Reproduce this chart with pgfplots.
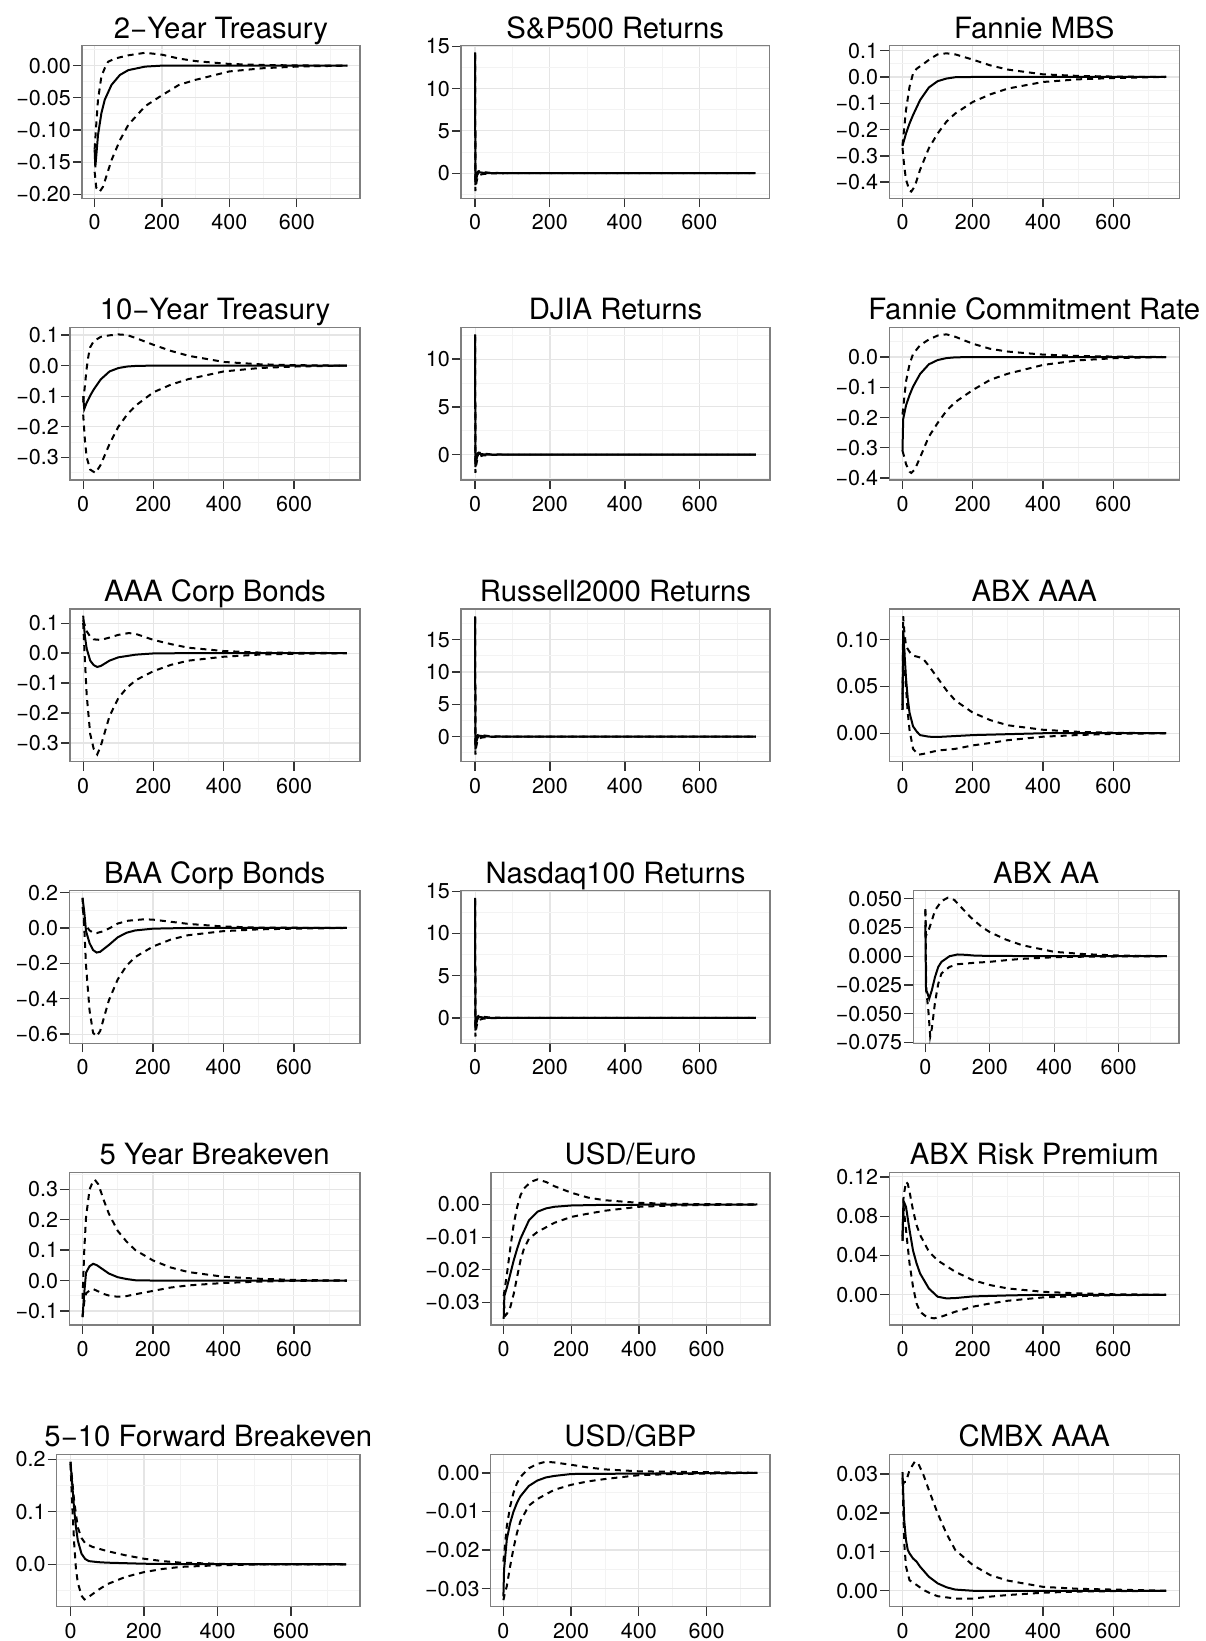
\documentclass[border=0pt]{standalone}
\usepackage{fontspec}
\setmainfont{TeX Gyre Heros}
\usepackage{pgfplots}
\pgfplotsset{compat=1.18}
\definecolor{grid90}{RGB}{229,229,229}
\definecolor{grid98}{RGB}{243,243,243}
\definecolor{border}{RGB}{127,127,127}
\definecolor{tickc}{RGB}{51,51,51}
\pgfplotsset{
 irf/.style={
  scale only axis,
  anchor=south west,
  height=152.5pt,
  xmin=-37.5, xmax=787.5,
  xtick={0,200,400,600},
  xticklabels={0,200,400,600},
  minor xtick={100,300,500,700},
  scaled ticks=false,
  tick align=outside,
  tick pos=left,
  major tick length=9pt,
  minor tick length=0pt,
  grid=both,
  major grid style={line width=1.1pt, color=grid90},
  minor grid style={line width=0.9pt, color=grid98},
  axis line style={line width=1.3pt, color=border},
  major tick style={line width=1.3pt, color=tickc},
  minor tick style={draw=none},
  tick label style={font=\fontsize{21.5}{21.5}\selectfont, text=black},
  yticklabel style={inner sep=0pt, xshift=-2pt},
  xticklabel style={inner sep=0pt, yshift=-7pt},
  title style={font=\fontsize{29.3}{29.3}\selectfont, anchor=base, at={(0.5,1)}, yshift=1.5pt, inner sep=0pt},
 },
 sl/.style={black, line width=2pt, no markers},
 dl/.style={black, line width=2pt, no markers, dash pattern=on 6pt off 5pt},
}
\begin{document}
\begin{tikzpicture}
\path[use as bounding box] (0,0) rectangle (1205pt,1641pt);

% ---------- Row 1 ----------
\begin{axis}[irf, at={(82pt,1442.8pt)}, width=278pt,
 title={2\textminus Year Treasury},
 ymin=-0.206, ymax=0.031,
 ytick={-0.2,-0.15,-0.1,-0.05,0},
 yticklabels={\textminus0.20,\textminus0.15,\textminus0.10,\textminus0.05,0.00},
 minor ytick={-0.175,-0.125,-0.075,-0.025,0.025}]
\addplot[sl] coordinates {(0,-0.13)(2,-0.158)(10,-0.108)(20,-0.074)(30,-0.053)(50,-0.030)(75,-0.0145)(100,-0.007)(150,-0.0015)(200,0)(750,0)};
\addplot[dl] coordinates {(0,-0.13)(5,-0.09)(10,-0.053)(20,-0.017)(30,-0.004)(40,0.006)(60,0.011)(100,0.016)(150,0.020)(200,0.017)(250,0.011)(300,0.007)(400,0.0026)(500,0.001)(600,0.0003)(750,0)};
\addplot[dl] coordinates {(0,-0.165)(5,-0.19)(15,-0.196)(25,-0.188)(50,-0.147)(75,-0.116)(100,-0.092)(150,-0.063)(200,-0.046)(250,-0.030)(300,-0.022)(400,-0.009)(500,-0.004)(600,-0.0015)(750,0)};
\end{axis}

\begin{axis}[irf, at={(461pt,1442.8pt)}, width=308.5pt,
 title={S\&P500 Returns},
 ymin=-2.95, ymax=15.08,
 ytick={0,5,10,15}, yticklabels={0,5,10,15},
 minor ytick={-2.5,2.5,7.5,12.5}]
\addplot[sl] coordinates {(0,14.3)(1,-1.4)(3,-0.7)(6,-0.2)(10,0.12)(15,0.1)(25,0.03)(50,0)(750,0)};
\addplot[dl] coordinates {(0,14.2)(1,-0.8)(3,-0.1)(6,0.15)(10,0.25)(20,0.15)(40,0.05)(80,0.01)(150,0)(750,0)};
\addplot[dl] coordinates {(0,14.0)(1,-2.1)(3,-1.3)(6,-0.6)(10,-0.25)(20,-0.1)(40,-0.03)(80,0)(750,0)};
\end{axis}

\begin{axis}[irf, at={(889.3pt,1442.8pt)}, width=290pt,
 title={Fannie MBS},
 ymin=-0.461, ymax=0.119,
 ytick={-0.4,-0.3,-0.2,-0.1,0,0.1},
 yticklabels={\textminus0.4,\textminus0.3,\textminus0.2,\textminus0.1,0.0,0.1},
 minor ytick={-0.45,-0.35,-0.25,-0.15,-0.05,0.05}]
\addplot[sl] coordinates {(0,-0.262)(10,-0.215)(20,-0.177)(30,-0.145)(50,-0.088)(75,-0.040)(100,-0.016)(125,-0.006)(150,-0.001)(200,0)(750,0)};
\addplot[dl] coordinates {(0,-0.26)(10,-0.126)(20,-0.038)(30,0.013)(40,0.031)(60,0.05)(80,0.07)(100,0.086)(125,0.09)(150,0.086)(200,0.066)(250,0.044)(300,0.028)(400,0.010)(500,0.004)(600,0.0015)(750,0)};
\addplot[dl] coordinates {(0,-0.27)(5,-0.34)(10,-0.39)(20,-0.433)(25,-0.436)(35,-0.416)(50,-0.353)(75,-0.271)(100,-0.215)(125,-0.17)(150,-0.139)(200,-0.095)(250,-0.066)(300,-0.044)(400,-0.019)(500,-0.009)(600,-0.004)(750,0)};
\end{axis}

% ---------- Row 2 ----------
\begin{axis}[irf, at={(70pt,1161.1pt)}, width=290pt,
 title={10\textminus Year Treasury},
 ymin=-0.3736, ymax=0.125,
 ytick={-0.3,-0.2,-0.1,0,0.1},
 yticklabels={\textminus0.3,\textminus0.2,\textminus0.1,0.0,0.1},
 minor ytick={-0.35,-0.25,-0.15,-0.05,0.05}]
\addplot[sl] coordinates {(0,-0.10)(3,-0.142)(10,-0.121)(20,-0.098)(30,-0.078)(50,-0.045)(75,-0.019)(100,-0.008)(125,-0.003)(150,-0.001)(200,0)(750,0)};
\addplot[dl] coordinates {(0,-0.12)(5,-0.064)(10,-0.008)(15,0.032)(20,0.06)(30,0.08)(50,0.094)(75,0.099)(100,0.102)(125,0.10)(150,0.09)(200,0.068)(250,0.048)(300,0.032)(400,0.012)(500,0.0045)(600,0.0015)(750,0)};
\addplot[dl] coordinates {(0,-0.16)(5,-0.245)(10,-0.30)(20,-0.34)(35,-0.351)(50,-0.324)(75,-0.256)(100,-0.20)(125,-0.16)(150,-0.13)(200,-0.087)(250,-0.062)(300,-0.044)(400,-0.019)(500,-0.008)(600,-0.003)(750,0)};
\end{axis}

\begin{axis}[irf, at={(461pt,1161.1pt)}, width=309pt,
 title={DJIA Returns},
 ymin=-2.64, ymax=13.32,
 ytick={0,5,10}, yticklabels={0,5,10},
 minor ytick={-2.5,2.5,7.5,12.5}]
\addplot[sl] coordinates {(0,12.6)(1,-1.3)(3,-0.6)(6,-0.2)(10,0.1)(15,0.08)(25,0.02)(50,0)(750,0)};
\addplot[dl] coordinates {(0,12.5)(1,-0.7)(3,-0.1)(6,0.13)(10,0.22)(20,0.13)(40,0.04)(80,0.01)(150,0)(750,0)};
\addplot[dl] coordinates {(0,12.3)(1,-1.9)(3,-1.1)(6,-0.5)(10,-0.22)(20,-0.09)(40,-0.03)(80,0)(750,0)};
\end{axis}

\begin{axis}[irf, at={(889.3pt,1161.1pt)}, width=290pt,
 title={Fannie Commitment Rate},
 ymin=-0.406, ymax=0.098,
 ytick={-0.4,-0.3,-0.2,-0.1,0},
 yticklabels={\textminus0.4,\textminus0.3,\textminus0.2,\textminus0.1,0.0},
 minor ytick={-0.35,-0.25,-0.15,-0.05,0.05}]
\addplot[sl] coordinates {(0,-0.31)(2,-0.205)(10,-0.16)(20,-0.126)(30,-0.098)(50,-0.056)(75,-0.024)(100,-0.010)(125,-0.0035)(150,-0.001)(200,0)(750,0)};
\addplot[dl] coordinates {(0,-0.19)(10,-0.081)(20,-0.024)(30,0.010)(50,0.039)(75,0.058)(100,0.071)(125,0.075)(150,0.067)(200,0.044)(250,0.027)(300,0.018)(400,0.008)(500,0.0035)(600,0.0015)(750,0)};
\addplot[dl] coordinates {(0,-0.31)(5,-0.33)(10,-0.354)(20,-0.379)(25,-0.383)(35,-0.372)(50,-0.332)(75,-0.263)(100,-0.218)(125,-0.178)(150,-0.149)(200,-0.109)(250,-0.075)(300,-0.055)(400,-0.026)(500,-0.011)(600,-0.004)(750,0)};
\end{axis}

% ---------- Row 3 ----------
\begin{axis}[irf, at={(70pt,879.4pt)}, width=290pt,
 title={AAA Corp Bonds},
 ymin=-0.362, ymax=0.147,
 ytick={-0.3,-0.2,-0.1,0,0.1},
 yticklabels={\textminus0.3,\textminus0.2,\textminus0.1,0.0,0.1},
 minor ytick={-0.35,-0.25,-0.15,-0.05,0.05}]
\addplot[sl] coordinates {(0,0.125)(5,0.055)(10,0.015)(20,-0.025)(30,-0.040)(40,-0.046)(50,-0.043)(75,-0.025)(100,-0.014)(150,-0.005)(200,-0.001)(300,0)(750,0)};
\addplot[dl] coordinates {(0,0.11)(10,0.073)(20,0.055)(30,0.046)(50,0.044)(75,0.052)(100,0.061)(130,0.067)(150,0.064)(200,0.044)(250,0.030)(300,0.018)(400,0.007)(500,0.002)(750,0)};
\addplot[dl] coordinates {(0,0.10)(5,-0.025)(10,-0.14)(20,-0.27)(30,-0.32)(40,-0.338)(50,-0.31)(75,-0.21)(100,-0.15)(125,-0.115)(150,-0.09)(200,-0.06)(250,-0.039)(300,-0.025)(400,-0.012)(500,-0.005)(600,-0.002)(750,0)};
\end{axis}

\begin{axis}[irf, at={(461pt,879.4pt)}, width=309pt,
 title={Russell2000 Returns},
 ymin=-3.87, ymax=19.74,
 ytick={0,5,10,15}, yticklabels={0,5,10,15},
 minor ytick={-2.5,2.5,7.5,12.5,17.5}]
\addplot[sl] coordinates {(0,18.6)(1,-2.0)(3,-0.9)(6,-0.3)(10,0.15)(15,0.12)(25,0.03)(50,0)(750,0)};
\addplot[dl] coordinates {(0,18.5)(1,-1.2)(3,-0.2)(6,0.2)(10,0.3)(20,0.2)(40,0.06)(80,0.01)(150,0)(750,0)};
\addplot[dl] coordinates {(0,18.3)(1,-2.8)(3,-1.6)(6,-0.8)(10,-0.3)(20,-0.12)(40,-0.04)(80,0)(750,0)};
\end{axis}

\begin{axis}[irf, at={(889.3pt,879.4pt)}, width=290pt,
 title={ABX AAA},
 ymin=-0.0303, ymax=0.1327,
 ytick={0,0.05,0.1}, yticklabels={0.00,0.05,0.10},
 minor ytick={-0.025,0.025,0.075,0.125}]
\addplot[sl] coordinates {(0,0.025)(2,0.11)(5,0.09)(10,0.059)(15,0.037)(20,0.022)(30,0.0074)(40,0.002)(50,-0.002)(75,-0.0037)(100,-0.004)(150,-0.003)(200,-0.002)(300,-0.001)(400,0)(750,0)};
\addplot[dl] coordinates {(0,0.03)(2,0.125)(5,0.11)(10,0.093)(20,0.087)(30,0.083)(50,0.081)(60,0.079)(75,0.072)(100,0.059)(125,0.046)(150,0.035)(200,0.022)(250,0.014)(300,0.0085)(400,0.0037)(500,0.0015)(600,0.0005)(750,0)};
\addplot[dl] coordinates {(0,0.025)(3,0.105)(8,0.06)(15,0.022)(20,0.0037)(30,-0.0167)(45,-0.023)(60,-0.022)(100,-0.0185)(150,-0.0167)(200,-0.013)(250,-0.0104)(300,-0.0074)(400,-0.0037)(500,-0.0019)(600,-0.0007)(750,0)};
\end{axis}

% ---------- Row 4 ----------
\begin{axis}[irf, at={(69.3pt,597.7pt)}, width=290.7pt,
 title={BAA Corp Bonds},
 ymin=-0.652, ymax=0.21,
 ytick={-0.6,-0.4,-0.2,0,0.2},
 yticklabels={\textminus0.6,\textminus0.4,\textminus0.2,0.0,0.2},
 minor ytick={-0.5,-0.3,-0.1,0.1}]
\addplot[sl] coordinates {(0,0.17)(5,0.09)(10,-0.018)(20,-0.086)(30,-0.125)(40,-0.139)(50,-0.135)(75,-0.096)(100,-0.053)(125,-0.027)(150,-0.014)(200,-0.004)(300,0)(750,0)};
\addplot[dl] coordinates {(0,0.12)(5,0.04)(10,0.012)(20,-0.014)(30,-0.027)(40,-0.029)(60,-0.018)(80,0.002)(100,0.025)(130,0.041)(175,0.049)(200,0.047)(250,0.035)(300,0.023)(400,0.008)(500,0.002)(750,0)};
\addplot[dl] coordinates {(0,0.17)(5,0.0)(10,-0.213)(20,-0.466)(30,-0.593)(40,-0.613)(50,-0.583)(75,-0.408)(100,-0.291)(125,-0.213)(150,-0.164)(200,-0.105)(250,-0.066)(300,-0.041)(400,-0.018)(500,-0.008)(600,-0.004)(750,0)};
\end{axis}

\begin{axis}[irf, at={(461pt,597.7pt)}, width=309pt,
 title={Nasdaq100 Returns},
 ymin=-3.0, ymax=15.05,
 ytick={0,5,10,15}, yticklabels={0,5,10,15},
 minor ytick={-2.5,2.5,7.5,12.5}]
\addplot[sl] coordinates {(0,14.2)(1,-1.5)(3,-0.7)(6,-0.2)(10,0.12)(15,0.1)(25,0.03)(50,0)(750,0)};
\addplot[dl] coordinates {(0,14.1)(1,-0.9)(3,-0.1)(6,0.15)(10,0.25)(20,0.15)(40,0.05)(80,0.01)(150,0)(750,0)};
\addplot[dl] coordinates {(0,13.9)(1,-2.2)(3,-1.3)(6,-0.6)(10,-0.25)(20,-0.1)(40,-0.03)(80,0)(750,0)};
\end{axis}

\begin{axis}[irf, at={(913.3pt,597.7pt)}, width=265.7pt,
 title={ABX AA},
 ymin=-0.0759, ymax=0.057,
 ytick={-0.075,-0.05,-0.025,0,0.025,0.05},
 yticklabels={\textminus0.075,\textminus0.050,\textminus0.025,0.000,0.025,0.050},
 minor ytick={-0.0625,-0.0375,-0.0125,0.0125,0.0375}]
\addplot[sl] coordinates {(0,0.027)(2,-0.03)(5,-0.031)(12,-0.037)(20,-0.0296)(30,-0.018)(40,-0.0093)(50,-0.0049)(75,0.0)(100,0.0015)(125,0.0012)(150,0.0006)(200,0.0002)(750,0)};
\addplot[dl] coordinates {(0,0.041)(2,0.018)(10,0.0226)(20,0.031)(30,0.040)(50,0.048)(70,0.051)(90,0.049)(110,0.043)(140,0.034)(175,0.0255)(200,0.021)(250,0.0145)(300,0.0096)(400,0.0038)(500,0.0017)(600,0.0006)(750,0)};
\addplot[dl] coordinates {(0,0.04)(3,-0.03)(10,-0.05)(15,-0.07)(20,-0.063)(30,-0.040)(40,-0.024)(50,-0.015)(75,-0.0093)(100,-0.007)(150,-0.0058)(200,-0.0049)(250,-0.0035)(300,-0.0023)(400,-0.0009)(500,-0.0004)(750,0)};
\end{axis}

% ---------- Row 5 ----------
\begin{axis}[irf, at={(69.3pt,316pt)}, width=290.7pt,
 title={5 Year Breakeven},
 ymin=-0.146, ymax=0.355,
 ytick={-0.1,0,0.1,0.2,0.3},
 yticklabels={\textminus0.1,0.0,0.1,0.2,0.3},
 minor ytick={-0.05,0.05,0.15,0.25,0.35}]
\addplot[sl] coordinates {(0,-0.12)(5,-0.04)(10,0.026)(20,0.047)(30,0.055)(40,0.051)(50,0.043)(75,0.023)(100,0.011)(125,0.005)(150,0.001)(200,0)(750,0)};
\addplot[dl] coordinates {(0,-0.06)(5,0.1)(10,0.208)(20,0.299)(30,0.327)(35,0.331)(45,0.316)(60,0.265)(75,0.219)(100,0.163)(125,0.128)(150,0.1)(200,0.066)(250,0.043)(300,0.028)(400,0.0125)(500,0.006)(600,0.002)(750,0)};
\addplot[dl] coordinates {(0,-0.12)(5,-0.07)(10,-0.042)(20,-0.033)(30,-0.028)(40,-0.033)(60,-0.044)(80,-0.051)(100,-0.053)(125,-0.051)(150,-0.045)(200,-0.034)(250,-0.023)(300,-0.016)(400,-0.008)(500,-0.0035)(600,-0.001)(750,0)};
\end{axis}

\begin{axis}[irf, at={(491pt,316pt)}, width=279pt,
 title={USD/Euro},
 ymin=-0.0369, ymax=0.0098,
 ytick={-0.03,-0.02,-0.01,0},
 yticklabels={\textminus0.03,\textminus0.02,\textminus0.01,0.00},
 minor ytick={-0.035,-0.025,-0.015,-0.005,0.005}]
\addplot[sl] coordinates {(0,-0.035)(2,-0.028)(10,-0.0252)(20,-0.0211)(30,-0.017)(40,-0.0135)(50,-0.0104)(75,-0.0048)(100,-0.0022)(125,-0.0012)(150,-0.0007)(200,-0.0003)(300,-0.0001)(750,0)};
\addplot[dl] coordinates {(0,-0.028)(10,-0.021)(20,-0.013)(30,-0.0058)(40,-0.0007)(50,0.0029)(60,0.0049)(80,0.0069)(100,0.0077)(125,0.0069)(150,0.0056)(200,0.0036)(250,0.0021)(300,0.0013)(400,0.0005)(500,0.0002)(750,0)};
\addplot[dl] coordinates {(0,-0.030)(5,-0.034)(10,-0.0334)(20,-0.0313)(30,-0.0272)(40,-0.022)(50,-0.017)(60,-0.0135)(75,-0.0104)(100,-0.0084)(150,-0.0056)(200,-0.0038)(250,-0.0028)(300,-0.0019)(400,-0.0007)(500,-0.0003)(750,0)};
\end{axis}

\begin{axis}[irf, at={(889.3pt,316pt)}, width=290pt,
 title={ABX Risk Premium},
 ymin=-0.0308, ymax=0.1245,
 ytick={0,0.04,0.08,0.12}, yticklabels={0.00,0.04,0.08,0.12},
 minor ytick={-0.02,0.02,0.06,0.10}]
\addplot[sl] coordinates {(0,0.055)(3,0.095)(5,0.094)(10,0.0895)(20,0.066)(30,0.045)(40,0.032)(50,0.0217)(75,0.0064)(100,-0.002)(125,-0.0037)(150,-0.0034)(200,-0.0017)(300,-0.0007)(400,0)(750,0)};
\addplot[dl] coordinates {(0,0.06)(3,0.1)(10,0.115)(15,0.113)(20,0.105)(30,0.086)(40,0.071)(50,0.061)(75,0.044)(100,0.035)(150,0.0234)(200,0.0149)(250,0.0098)(300,0.0064)(400,0.003)(500,0.0014)(600,0.0005)(750,0)};
\addplot[dl] coordinates {(0,0.055)(3,0.09)(10,0.066)(20,0.032)(30,0.008)(40,-0.0088)(50,-0.0173)(70,-0.023)(90,-0.024)(110,-0.0224)(150,-0.0173)(200,-0.0122)(250,-0.0088)(300,-0.0061)(400,-0.0027)(500,-0.0014)(600,-0.0005)(750,0)};
\end{axis}

% ---------- Row 6 ----------
\begin{axis}[irf, at={(56.7pt,34.3pt)}, width=303.3pt,
 title={5\textminus 10 Forward Breakeven},
 ymin=-0.0808, ymax=0.2095,
 ytick={0,0.1,0.2}, yticklabels={0.0,0.1,0.2},
 minor ytick={-0.05,0.05,0.15}]
\addplot[sl] coordinates {(0,0.195)(5,0.15)(10,0.105)(15,0.07)(20,0.045)(30,0.02)(40,0.01)(50,0.006)(75,0.004)(100,0.003)(200,0.001)(300,0.0003)(750,0)};
\addplot[dl] coordinates {(0,0.195)(10,0.12)(20,0.07)(30,0.05)(40,0.04)(60,0.033)(100,0.025)(150,0.017)(200,0.0105)(250,0.006)(300,0.003)(400,0.001)(500,0.0)(750,0)};
\addplot[dl] coordinates {(0,0.19)(5,0.11)(10,0.04)(15,-0.01)(20,-0.035)(30,-0.06)(38,-0.067)(50,-0.062)(75,-0.049)(100,-0.038)(150,-0.024)(200,-0.015)(250,-0.009)(300,-0.005)(400,-0.002)(500,-0.0005)(750,0)};
\end{axis}

\begin{axis}[irf, at={(490.7pt,34.3pt)}, width=279.3pt,
 title={USD/GBP},
 ymin=-0.0347, ymax=0.00484,
 ytick={-0.03,-0.02,-0.01,0},
 yticklabels={\textminus0.03,\textminus0.02,\textminus0.01,0.00},
 minor ytick={-0.025,-0.015,-0.005}]
\addplot[sl] coordinates {(0,-0.032)(2,-0.025)(10,-0.0173)(20,-0.013)(30,-0.010)(40,-0.0078)(50,-0.0061)(75,-0.0034)(100,-0.002)(125,-0.0012)(150,-0.0008)(200,-0.0003)(750,0)};
\addplot[dl] coordinates {(0,-0.023)(10,-0.0139)(20,-0.0087)(30,-0.0051)(40,-0.0027)(50,-0.0011)(75,0.0012)(100,0.0023)(125,0.0029)(150,0.0027)(200,0.0021)(250,0.0014)(300,0.0009)(400,0.0004)(750,0)};
\addplot[dl] coordinates {(0,-0.033)(5,-0.031)(10,-0.0294)(20,-0.0242)(30,-0.0195)(40,-0.0156)(50,-0.0126)(75,-0.0085)(100,-0.0068)(150,-0.0044)(200,-0.0031)(250,-0.0022)(300,-0.0016)(400,-0.0006)(500,-0.0003)(750,0)};
\end{axis}

\begin{axis}[irf, at={(889.3pt,34.3pt)}, width=290pt,
 title={CMBX AAA},
 ymin=-0.0041, ymax=0.0351,
 ytick={0,0.01,0.02,0.03}, yticklabels={0.00,0.01,0.02,0.03},
 minor ytick={0.005,0.015,0.025}]
\addplot[sl] coordinates {(0,0.0305)(5,0.018)(10,0.013)(15,0.0105)(20,0.0096)(30,0.0083)(40,0.0075)(50,0.0062)(75,0.0036)(100,0.0019)(125,0.0009)(150,0.0003)(200,0)(750,0)};
\addplot[dl] coordinates {(0,0.027)(5,0.028)(10,0.028)(20,0.031)(35,0.0332)(45,0.0327)(60,0.0297)(75,0.0259)(100,0.0199)(125,0.0147)(150,0.0105)(200,0.0066)(250,0.004)(300,0.0026)(400,0.001)(500,0.0005)(750,0)};
\addplot[dl] coordinates {(0,0.029)(5,0.0122)(10,0.0062)(20,0.0027)(40,0.0015)(60,0.0002)(80,-0.0007)(100,-0.0014)(150,-0.002)(200,-0.002)(250,-0.0015)(300,-0.0011)(400,-0.0005)(500,-0.0002)(750,0)};
\end{axis}
\end{tikzpicture}
\end{document}
